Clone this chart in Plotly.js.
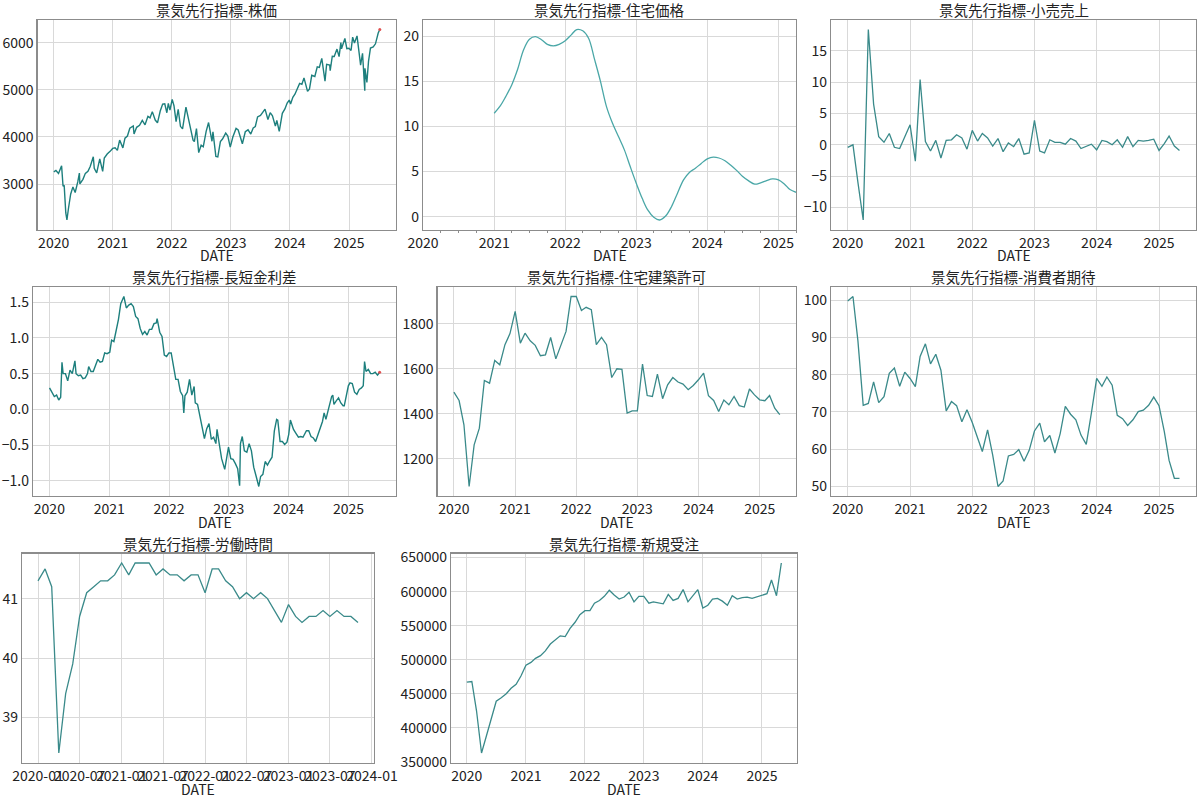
<!DOCTYPE html>
<html>
<head>
<meta charset="utf-8">
<script src="https://cdn.plot.ly/plotly-3.0.1.min.js"></script>
<style>
html,body{margin:0;padding:0;background:#fff;}
#chart{width:1200px;height:800px;}
</style>
</head>
<body>
<div id="chart"></div>
<script>
// ---------- DATA ----------
const stockDates = ['2020-01-02','2020-01-15','2020-01-31','2020-02-14','2020-02-19','2020-02-28','2020-03-06','2020-03-16','2020-03-23','2020-04-01','2020-04-15','2020-04-29','2020-05-13','2020-05-29','2020-06-08','2020-06-11','2020-06-30','2020-07-15','2020-07-31','2020-08-14','2020-09-02','2020-09-08','2020-09-23','2020-10-12','2020-10-30','2020-11-09','2020-11-27','2020-12-15','2020-12-31','2021-01-15','2021-01-29','2021-02-12','2021-03-04','2021-03-17','2021-04-01','2021-04-16','2021-05-07','2021-05-12','2021-05-28','2021-06-15','2021-07-02','2021-07-19','2021-08-06','2021-08-19','2021-09-02','2021-09-20','2021-10-04','2021-10-21','2021-11-05','2021-11-18','2021-12-01','2021-12-10','2021-12-20','2022-01-03','2022-01-14','2022-01-27','2022-02-09','2022-02-23','2022-03-08','2022-03-29','2022-04-14','2022-04-29','2022-05-12','2022-05-20','2022-06-02','2022-06-16','2022-07-01','2022-07-14','2022-08-01','2022-08-16','2022-09-06','2022-09-12','2022-09-30','2022-10-12','2022-10-28','2022-11-10','2022-11-30','2022-12-13','2022-12-28','2023-01-13','2023-02-02','2023-02-15','2023-03-09','2023-03-13','2023-03-31','2023-04-17','2023-05-04','2023-05-19','2023-06-01','2023-06-15','2023-07-03','2023-07-31','2023-08-18','2023-09-01','2023-09-15','2023-10-03','2023-10-12','2023-10-27','2023-11-15','2023-12-01','2023-12-15','2023-12-28','2024-01-05','2024-01-19','2024-02-01','2024-02-15','2024-03-01','2024-03-15','2024-03-28','2024-04-19','2024-05-01','2024-05-15','2024-06-03','2024-06-18','2024-07-01','2024-07-16','2024-08-05','2024-08-15','2024-09-03','2024-09-06','2024-09-19','2024-10-01','2024-10-18','2024-10-31','2024-11-11','2024-11-15','2024-12-06','2024-12-18','2024-12-31','2025-01-13','2025-01-23','2025-02-03','2025-02-19','2025-03-10','2025-03-13','2025-03-25','2025-04-04','2025-04-08','2025-04-09','2025-04-21','2025-05-01','2025-05-13','2025-05-30','2025-06-13','2025-06-30','2025-07-10'];
const stockVals = [3258,3289,3226,3380,3386,2954,2972,2386,2237,2470,2783,2939,2820,3044,3232,3002,3100,3227,3271,3373,3580,3332,3237,3534,3270,3550,3638,3694,3756,3768,3714,3934,3768,3974,4020,4185,4232,4063,4204,4246,4352,4258,4437,4405,4537,4358,4300,4549,4697,4704,4513,4712,4568,4797,4662,4326,4587,4225,4170,4631,4392,4132,3930,3901,4177,3667,3825,3790,4119,4305,3908,4110,3586,3577,3901,3956,4080,4020,3783,3999,4180,4148,3918,3855,4109,4151,4061,4192,4221,4425,4455,4589,4370,4515,4450,4229,4349,4117,4502,4594,4719,4783,4697,4840,4906,5029,5137,5117,5254,4967,5018,5308,5283,5487,5475,5667,5186,5543,5528,5408,5713,5709,5864,5705,6001,5870,6090,5872,5882,5836,6119,5994,6144,5615,5522,5776,5074,4982,5457,5158,5604,5886,5912,5977,6205,6280];

const spreadDates = ['2020-01-02','2020-01-15','2020-01-31','2020-02-14','2020-02-27','2020-03-10','2020-03-18','2020-03-25','2020-04-08','2020-04-22','2020-05-06','2020-05-20','2020-06-05','2020-06-12','2020-06-26','2020-07-10','2020-07-24','2020-08-07','2020-08-21','2020-08-28','2020-09-11','2020-09-25','2020-10-09','2020-10-23','2020-11-06','2020-11-20','2020-12-04','2020-12-18','2021-01-04','2021-01-15','2021-01-29','2021-02-12','2021-02-26','2021-03-12','2021-03-31','2021-04-15','2021-04-30','2021-05-14','2021-05-28','2021-06-11','2021-06-25','2021-07-09','2021-07-23','2021-08-06','2021-08-20','2021-09-03','2021-09-17','2021-10-01','2021-10-15','2021-10-20','2021-11-05','2021-11-19','2021-12-03','2021-12-17','2021-12-31','2022-01-14','2022-01-28','2022-02-11','2022-02-25','2022-03-11','2022-03-25','2022-04-01','2022-04-08','2022-04-22','2022-05-06','2022-05-20','2022-06-03','2022-06-10','2022-06-24','2022-07-08','2022-07-22','2022-08-05','2022-08-19','2022-09-02','2022-09-16','2022-09-30','2022-10-14','2022-10-21','2022-11-04','2022-11-18','2022-12-07','2022-12-16','2022-12-30','2023-01-13','2023-01-27','2023-02-10','2023-02-24','2023-03-08','2023-03-13','2023-03-24','2023-04-06','2023-04-21','2023-05-05','2023-05-19','2023-06-02','2023-06-16','2023-07-03','2023-07-14','2023-07-28','2023-08-11','2023-08-25','2023-09-08','2023-09-22','2023-10-06','2023-10-20','2023-10-27','2023-11-10','2023-11-24','2023-12-08','2023-12-22','2024-01-02','2024-01-12','2024-01-31','2024-02-16','2024-03-01','2024-03-15','2024-03-29','2024-04-19','2024-05-03','2024-05-17','2024-05-31','2024-06-14','2024-06-28','2024-07-12','2024-07-26','2024-08-05','2024-08-16','2024-08-30','2024-09-06','2024-09-20','2024-09-27','2024-10-04','2024-10-18','2024-11-01','2024-11-15','2024-11-29','2024-12-06','2024-12-20','2024-12-31','2025-01-10','2025-01-24','2025-02-07','2025-02-21','2025-03-07','2025-03-21','2025-04-01','2025-04-09','2025-04-18','2025-05-02','2025-05-16','2025-05-30','2025-06-13','2025-06-27','2025-07-10'];
const spreadVals = [0.30,0.25,0.18,0.20,0.13,0.17,0.66,0.50,0.50,0.40,0.55,0.50,0.68,0.50,0.47,0.48,0.43,0.44,0.50,0.60,0.53,0.53,0.62,0.70,0.66,0.67,0.79,0.78,0.80,0.97,0.95,1.09,1.26,1.48,1.58,1.42,1.46,1.48,1.44,1.30,1.27,1.13,1.05,1.09,1.04,1.12,1.12,1.20,1.21,1.27,1.08,1.02,0.76,0.74,0.79,0.79,0.61,0.42,0.42,0.25,0.19,-0.05,0.19,0.24,0.42,0.20,0.32,0.09,0.07,-0.09,-0.20,-0.41,-0.27,-0.20,-0.42,-0.39,-0.48,-0.28,-0.49,-0.69,-0.84,-0.69,-0.53,-0.69,-0.70,-0.76,-0.83,-1.07,-0.48,-0.38,-0.58,-0.60,-0.48,-0.58,-0.81,-0.93,-1.08,-0.94,-0.91,-0.73,-0.78,-0.72,-0.67,-0.30,-0.14,-0.15,-0.45,-0.45,-0.49,-0.46,-0.35,-0.15,-0.28,-0.34,-0.39,-0.38,-0.39,-0.30,-0.30,-0.38,-0.40,-0.45,-0.35,-0.28,-0.17,-0.05,-0.14,-0.01,0.07,0.18,0.20,0.07,0.12,0.16,0.09,0.05,0.05,0.24,0.33,0.37,0.36,0.24,0.21,0.28,0.30,0.33,0.67,0.53,0.56,0.50,0.50,0.52,0.48,0.52];

const housePriceStart = '2021-01';
const housePriceVals = [11.46,12.27,13.3,14.6,16.3,18.5,19.67,19.96,19.6,19.1,18.93,19.1,
  19.5,20.15,20.74,20.6,19.78,17.4,15.0,12.2,10.35,8.9,7.4,5.55,
  3.7,2.0,0.74,-0.07,-0.37,0.07,1.1,2.6,4.07,4.9,5.36,5.9,
  6.4,6.6,6.5,6.2,5.7,5.1,4.44,3.96,3.6,3.75,4.0,4.18,
  4.07,3.6,3.0,2.7];
const housePriceAxisRange = ['2020-01-01','2025-04-01'];

const retailStart = '2020-01';
const retailVals = [-0.4,0,-6,-12,18.4,6.5,1.3,0.4,1.8,-0.4,-0.6,1.4,
  3.2,-2.6,10.4,0.5,-1,0.7,-2.1,0.7,0.8,1.6,1.1,-0.7,
  2.3,0.6,1.8,1.1,-0.2,1.0,-1.1,0.3,-0.3,1.0,-1.5,-1.3,
  3.9,-1.0,-1.3,0.8,0.4,0.4,0.1,1.0,0.6,-0.6,-0.3,0.1,
  -0.8,0.7,0.5,0.0,0.8,-0.4,1.3,-0.3,0.7,0.6,0.7,0.9,
  -0.9,0.2,1.4,-0.2,-0.9];

const permitStart = '2020-01';
const permitVals = [1496,1459,1351,1077,1262,1336,1548,1536,1637,1618,1707,1756,
  1855,1714,1758,1724,1704,1658,1662,1739,1644,1707,1766,1921,
  1921,1859,1873,1862,1707,1739,1707,1561,1600,1597,1403,1413,
  1413,1621,1481,1477,1576,1467,1529,1561,1541,1532,1507,1526,
  1551,1581,1480,1459,1410,1461,1440,1477,1436,1430,1510,1484,
  1462,1458,1481,1425,1396];

const sentimentStart = '2020-01';
const sentimentVals = [99.8,101.0,89.1,71.8,72.3,78.1,72.5,74.1,80.4,81.8,76.9,80.7,
  79.0,76.8,84.9,88.3,82.9,85.5,81.2,70.3,72.8,71.7,67.4,70.6,
  67.2,62.8,59.4,65.2,58.4,50.0,51.5,58.2,58.6,59.9,56.8,59.7,
  64.9,67.0,62.0,63.7,59.0,64.2,71.5,69.4,67.9,63.8,61.3,69.7,
  79.0,76.9,79.4,77.2,69.1,68.2,66.4,67.9,70.1,70.5,71.8,74.0,
  71.7,64.7,57.0,52.2,52.2];

const hoursStart = '2020-01';
const hoursVals = [41.3,41.5,41.2,38.4,39.4,39.9,40.7,41.1,41.2,41.3,41.3,41.4,
  41.6,41.4,41.6,41.6,41.6,41.4,41.5,41.4,41.4,41.3,41.4,41.4,
  41.1,41.5,41.5,41.3,41.2,41.0,41.1,41.0,41.1,41.0,40.8,40.6,
  40.9,40.7,40.6,40.7,40.7,40.8,40.7,40.8,40.7,40.7,40.6];

const ordersStart = '2020-01';
const ordersVals = [467000,468000,425000,363000,388000,415000,439000,444000,450000,458000,464000,476000,
  492000,496000,502000,506000,513000,523000,529000,535000,534000,546000,555000,566000,
  572000,572000,583000,587000,593000,602000,595000,589000,592000,599000,585000,593000,
  593000,583000,585000,584000,582000,596000,587000,590000,603000,585000,594000,603000,
  576000,580000,589000,590000,586000,580000,594000,589000,591000,592000,590000,592000,
  594000,597000,617000,594000,642000];

const titles = ['景気先行指標-株価','景気先行指標-住宅価格','景気先行指標-小売売上','景気先行指標-長短金利差',
  '景気先行指標-住宅建築許可','景気先行指標-消費者期待','景気先行指標-労働時間','景気先行指標-新規受注'];
const xAxisLabel = 'DATE';

// ---------- HELPERS ----------
function monthSeq(start, n){
  const [y0,m0] = start.split('-').map(Number);
  const out=[];
  for(let i=0;i<n;i++){
    const t=(m0-1)+i; const y=y0+Math.floor(t/12); const m=(t%12)+1;
    out.push(y+'-'+String(m).padStart(2,'0')+'-01');
  }
  return out;
}
function toMs(d){return new Date(d+'T00:00:00Z').getTime();}
function padRangeDates(ds){
  const a=toMs(ds[0]), b=toMs(ds[ds.length-1]); const p=(b-a)*0.05;
  return [new Date(a-p).toISOString().slice(0,10), new Date(b+p).toISOString().slice(0,10)];
}
function padRange(vs){
  const mn=Math.min(...vs), mx=Math.max(...vs); const p=(mx-mn)*0.05;
  return [mn-p, mx+p];
}

const series = [
  {x: stockDates, y: stockVals, color:'#1d7f7d', width:1.4},
  {x: monthSeq(housePriceStart, housePriceVals.length), y: housePriceVals, color:'#4aa7a7', width:1.3, spline:true, xr: housePriceAxisRange},
  {x: monthSeq(retailStart, retailVals.length), y: retailVals, color:'#3a8a8a', width:1.3},
  {x: spreadDates, y: spreadVals, color:'#1d7f7d', width:1.4},
  {x: monthSeq(permitStart, permitVals.length), y: permitVals, color:'#3a8a8a', width:1.3},
  {x: monthSeq(sentimentStart, sentimentVals.length), y: sentimentVals, color:'#3a8a8a', width:1.3},
  {x: monthSeq(hoursStart, hoursVals.length), y: hoursVals, color:'#3a8a8a', width:1.3},
  {x: monthSeq(ordersStart, ordersVals.length), y: ordersVals, color:'#3a8a8a', width:1.3}
];

// panel boxes in pixels [left, right, top, bottom]
const W=1200, H=800;
const boxes = [
  [37.5,396,20,229.5],[423,796,20,229.5],[831,1196,20,229.5],
  [33,396,287,496],[437.5,796,287,496],[831,1196,287,496],
  [22,374,553.5,762.5],[451,797,553.5,762.5]
];
const yFmt = [{dtick:1000},{dtick:5},{dtick:5},{dtick:0.5,tickformat:'.1f'},{dtick:200},{dtick:10},{dtick:1},{dtick:50000,tickformat:'d'}];

const FONT = '"Noto Sans CJK JP", "Noto Sans", sans-serif';
const traces=[]; const layout={
  width:W, height:H, margin:{l:0,r:0,t:0,b:0}, paper_bgcolor:'#fff', plot_bgcolor:'#fff',
  showlegend:false, font:{family:FONT, color:'#222', size:14}, annotations:[]
};

series.forEach((s,i)=>{
  const n=i+1; const xa='x'+(n===1?'':n), ya='y'+(n===1?'':n);
  traces.push({type:'scatter', mode:'lines', x:s.x, y:s.y, xaxis:xa, yaxis:ya,
    line:{color:s.color, width:s.width, shape: s.spline?'spline':'linear', smoothing:1}, hoverinfo:'x+y'});
  const b=boxes[i];
  const common={showline:true, mirror:true, linecolor:'#8c8c8c', linewidth:1.2, showgrid:true, gridcolor:'#d9d9d9', gridwidth:1,
    zeroline:false, ticks:'', tickfont:{size:14, color:'#222', family:FONT}};
  const xaxis=Object.assign({}, common, {
    domain:[b[0]/W, b[1]/W], anchor:ya, type:'date',
    range: s.xr ? s.xr : padRangeDates(s.x),
    tick0:'2020-01-01', dtick: (i===6?'M6':'M12'), tickformat: (i===6?'%Y-%m':'%Y'), tickangle:0
  });
  if(i===1){ xaxis.minor={ticks:'outside', ticklen:2.5, dtick:'M3', tick0:'2020-01-01', tickcolor:'#8c8c8c', showgrid:false}; }
  const yaxis=Object.assign({}, common, {
    domain:[1-b[3]/H, 1-b[2]/H], anchor:xa, range: padRange(s.y), tick0:0
  }, yFmt[i]);
  layout['xaxis'+(n===1?'':n)]=xaxis;
  layout['yaxis'+(n===1?'':n)]=yaxis;
  // panel title
  layout.annotations.push({text:titles[i], xref:'paper', yref:'paper', x:(b[0]+b[1])/2/W, y:1-b[2]/H,
    xanchor:'center', yanchor:'bottom', yshift:-2, showarrow:false, font:{size:14.5, color:'#222', family:FONT}});
  // x-axis label
  layout.annotations.push({text:xAxisLabel, xref:'paper', yref:'paper', x:(b[0]+b[1])/2/W, y:1-(b[3]+26)/H,
    xanchor:'center', yanchor:'middle', showarrow:false, font:{size:14, color:'#222', family:FONT}});
});

// red end marker on stock & spread lines (last observation)
[[0,stockDates,stockVals],[3,spreadDates,spreadVals]].forEach(([i,d,v])=>{
  const n=i+1;
  traces.push({type:'scatter', mode:'markers', x:[d[d.length-1]], y:[v[v.length-1]],
    xaxis:'x'+(n===1?'':n), yaxis:'y'+(n===1?'':n), marker:{color:'#e05050', size:3}, hoverinfo:'skip'});
});

Plotly.newPlot('chart', traces, layout, {staticPlot:true});
</script>
</body>
</html>
